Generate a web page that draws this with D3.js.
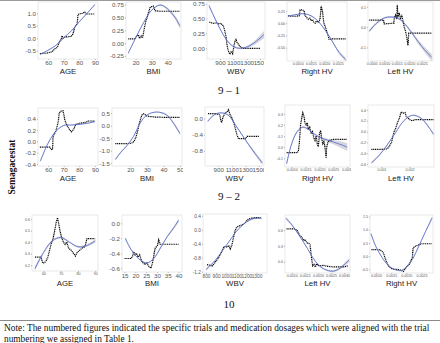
<!DOCTYPE html>
<html>
<head>
<meta charset="utf-8">
<script src="https://cdn.jsdelivr.net/npm/d3@7"></script>
<style>
  body { margin: 0; background: #fff; }
  svg { display: block; }
</style>
</head>
<body>
<div id="chart"></div>
<script>
// ---- row 9-1 ----
const r1AgeX = [60, 70, 80, 90], r1AgeY = [-0.5, 0, 0.5, 1.0];
const r1AgeDots = [[54.7,-0.62],[57,-0.6],[59,-0.6],[60.5,-0.57],[62,-0.55],[63.2,-0.5],[64.3,-0.42],[65.5,-0.38],[66.4,-0.3],[67.1,-0.15],[68.3,-0.05],[69,0.1],[69.6,0.0],[71,0.05],[73,0.06],[74.9,0.08],[76,0.18],[77.1,0.45],[78.6,0.58],[79.2,0.95],[80.3,0.98],[82.4,1.0],[83.5,1.05],[84.5,0.97],[87,0.97],[89.9,0.97]];
const r1AgeFit = [[55,-0.64,0.03],[60,-0.48,0.02],[65,-0.28,0.015],[70,0.02,0.015],[75,0.3,0.015],[80,0.66,0.02],[85,1.0,0.025],[90,1.35,0.04]];

const r1BmiX = [20, 30, 40], r1BmiY = [-0.25, 0, 0.25, 0.5, 0.75];
const r1BmiDots = [[15.4,0.08],[17.5,0.08],[19.6,0.08],[20.5,0.13],[21.7,0.16],[22.5,0.09],[23.5,0.14],[24.3,0.1],[24.8,0.18],[25.5,0.3],[26.3,0.42],[27.2,0.5],[27.9,0.58],[29,0.69],[30,0.71],[31,0.72],[32.1,0.63],[35,0.62],[40,0.62],[44,0.62],[47.7,0.62]];
const r1BmiFit = [[15.4,-0.2,0.02],[20,0.1,0.015],[25,0.4,0.012],[30,0.64,0.012],[35,0.74,0.015],[38,0.71,0.02],[42,0.6,0.03],[45,0.48,0.04],[47.7,0.33,0.05]];

const r1WbvX = [900, 1100, 1300, 1500], r1WbvY = [0, 0.25, 0.5, 0.75];
const r1WbvDots = [[740,0.44],[800,0.42],[850,0.43],[880,0.41],[910,0.42],[950,0.38],[970,0.3],[990,0.2],[1000,0.1],[1015,0.0],[1030,-0.06],[1050,-0.1],[1070,-0.05],[1090,-0.09],[1110,0.05],[1125,0.12],[1140,0.15],[1155,0.1],[1175,0.07],[1200,0.03],[1240,0.0],[1300,0.0],[1400,0.0],[1500,0.0]];
const r1WbvFit = [[735,0.72,0.03],[800,0.56,0.02],[900,0.33,0.015],[1000,0.14,0.012],[1100,0.03,0.012],[1200,0.0,0.015],[1300,0.02,0.02],[1400,0.08,0.03],[1500,0.17,0.05],[1560,0.23,0.06]];

const r1RhvX = [0.0010, 0.0015, 0.0020, 0.0025], r1RhvY = [-0.5, -0.25, 0, 0.25];
const r1RhvDots = [[0.00064,0.15],[0.0008,0.14],[0.00095,0.14],[0.00106,0.15],[0.00109,0.27],[0.00118,0.27],[0.00124,0.25],[0.00128,0.15],[0.00136,0.1],[0.0014,0.08],[0.00146,0.1],[0.0015,0.05],[0.00156,0.07],[0.0016,0.02],[0.00166,0.0],[0.0017,0.04],[0.00178,0.02],[0.00184,0.08],[0.00188,0.35],[0.00191,0.28],[0.00194,0.2],[0.00198,0.0],[0.00202,-0.05],[0.00208,-0.15],[0.00214,-0.25],[0.00218,-0.33],[0.0023,-0.32],[0.0025,-0.32],[0.0028,-0.32]];
const r1RhvFit = [[0.00064,0.14,0.015],[0.0009,0.17,0.01],[0.00125,0.19,0.008],[0.0015,0.15,0.008],[0.00178,0.03,0.01],[0.00214,-0.23,0.015],[0.00256,-0.6,0.03],[0.0028,-0.74,0.04]];

const r1LhvX = [0.0005, 0.0010, 0.0015, 0.0020, 0.0025], r1LhvY = [-0.1, 0, 0.1];
const r1LhvDots = [[0.0004,0.035],[0.0006,0.035],[0.0008,0.035],[0.00097,0.035],[0.001,0.016],[0.0012,0.018],[0.00139,0.02],[0.0014,0.045],[0.00145,0.06],[0.0015,0.04],[0.00152,0.11],[0.00155,0.05],[0.0016,0.07],[0.00165,0.04],[0.0017,0.06],[0.00175,0.03],[0.0018,0.0],[0.00185,-0.02],[0.0019,-0.05],[0.00195,-0.09],[0.00198,-0.03],[0.0021,-0.03],[0.0024,-0.03],[0.0027,-0.03],[0.0029,-0.03]];
const r1LhvFit = [[0.0004,-0.02,0.008],[0.0007,0.02,0.006],[0.001,0.045,0.005],[0.0013,0.05,0.005],[0.0016,0.04,0.005],[0.0019,0.005,0.006],[0.0022,-0.045,0.008],[0.0025,-0.095,0.012],[0.0029,-0.15,0.018]];

// ---- row 9-2 ----
const r2AgeX = [60, 70, 80, 90], r2AgeY = [-0.4, -0.2, 0, 0.2, 0.4];
const r2AgeDots = [[54.7,-0.1],[57,-0.1],[59,-0.1],[61.1,-0.1],[62,-0.14],[62.8,-0.15],[63.2,0.09],[64.3,0.15],[64.9,0.18],[65.8,0.27],[66.5,0.35],[67.1,0.5],[68.1,0.53],[69.6,0.54],[70.7,0.38],[71.8,0.3],[73,0.24],[73.9,0.2],[75,0.17],[76.5,0.22],[77.7,0.3],[80.3,0.32],[84.5,0.34],[85.6,0.36],[89.9,0.36]];
const r2AgeFit = [[55,-0.35,0.02],[60,-0.03,0.012],[65,0.18,0.01],[70,0.28,0.008],[75,0.29,0.008],[80,0.3,0.008],[85,0.32,0.01],[90,0.35,0.015]];

const r2BmiX = [20, 30, 40, 50], r2BmiY = [-1.5, -1.0, -0.5, 0, 0.5];
const r2BmiDots = [[11,-0.72],[14,-0.72],[17,-0.72],[20,-0.71],[21.5,-0.68],[22.5,-0.6],[23.5,-0.45],[24.5,-0.2],[25.3,0.05],[26.2,0.25],[27,0.42],[28,0.47],[29,0.43],[30,0.38],[32,0.36],[35,0.34],[40,0.33],[45,0.33],[50,0.33]];
const r2BmiFit = [[11,-1.35,0.05],[14.5,-1.05,0.03],[18,-0.8,0.02],[22,-0.43,0.015],[26,0.1,0.012],[30,0.42,0.012],[36,0.54,0.02],[42,0.42,0.03],[46,0.1,0.05],[50,-0.32,0.07]];

const r2WbvX = [900, 1100, 1300, 1500], r2WbvY = [-0.8, -0.4, 0];
const r2WbvDots = [[750,0.12],[800,0.12],[850,0.12],[900,0.11],[925,0.08],[935,-0.03],[950,-0.1],[965,0.0],[975,0.05],[1000,0.14],[1030,0.16],[1050,0.22],[1075,0.1],[1100,0.02],[1125,-0.08],[1150,-0.23],[1175,-0.4],[1200,-0.5],[1250,-0.5],[1300,-0.5],[1325,-0.44],[1400,-0.44],[1500,-0.44]];
const r2WbvFit = [[745,-0.07,0.03],[850,0.1,0.02],[950,0.14,0.015],[1050,0.08,0.015],[1150,-0.15,0.015],[1250,-0.4,0.02],[1350,-0.65,0.03],[1450,-0.88,0.04],[1550,-1.1,0.05]];

const r2RhvX = [0.0010, 0.0015, 0.0020, 0.0025, 0.0030], r2RhvY = [-0.1, 0, 0.1, 0.2, 0.3];
const r2RhvDots = [[0.00082,-0.05],[0.001,-0.05],[0.0012,-0.05],[0.00124,-0.04],[0.00128,0.05],[0.00132,0.2],[0.00136,0.26],[0.0014,0.31],[0.00144,0.28],[0.00148,0.22],[0.00152,0.2],[0.00156,0.22],[0.0016,0.16],[0.00165,0.18],[0.0017,0.12],[0.00175,0.14],[0.0018,0.08],[0.00184,0.06],[0.00188,0.1],[0.00192,0.03],[0.00196,0.0],[0.002,0.12],[0.00204,0.15],[0.00208,0.08],[0.00212,0.03],[0.00216,0.05],[0.0022,0.0],[0.00224,-0.1],[0.00226,0.0],[0.0023,0.04],[0.00236,0.06],[0.0025,0.07],[0.0028,0.07],[0.003,0.07]];
const r2RhvFit = [[0.00082,-0.15,0.02],[0.001,0.03,0.012],[0.0012,0.14,0.01],[0.0014,0.18,0.008],[0.0016,0.16,0.008],[0.0018,0.12,0.008],[0.002,0.09,0.01],[0.0022,0.07,0.012],[0.0025,0.045,0.02],[0.0028,0.02,0.03],[0.003,0.0,0.035]];

const r2LhvX = [0.001, 0.002], r2LhvY = [-0.6, -0.4, -0.2, 0, 0.2, 0.4];
const r2LhvDots = [[0.00064,-0.33],[0.0008,-0.33],[0.001,-0.33],[0.00118,-0.32],[0.00125,-0.3],[0.0013,-0.25],[0.00136,-0.2],[0.0014,-0.1],[0.00145,0.0],[0.0015,0.05],[0.00156,0.15],[0.00164,0.25],[0.0017,0.36],[0.00178,0.34],[0.00184,0.35],[0.00188,0.28],[0.00195,0.25],[0.002,0.22],[0.00209,0.2],[0.0022,0.22],[0.0025,0.22],[0.00285,0.22]];
const r2LhvFit = [[0.00064,-0.58,0.02],[0.0009,-0.45,0.015],[0.0012,-0.25,0.012],[0.0015,-0.02,0.01],[0.0018,0.2,0.01],[0.0021,0.3,0.01],[0.0024,0.25,0.015],[0.0027,0.07,0.02],[0.00285,-0.05,0.025]];

// ---- row 10 ----
const r3AgeX = [60, 70, 80, 90], r3AgeY = [0.2, 0.3, 0.4, 0.5, 0.6];
const r3AgeDots = [[55,0.27],[57,0.27],[58.5,0.27],[59.5,0.22],[60.5,0.22],[61.5,0.24],[62.5,0.27],[63.5,0.33],[64.5,0.39],[65.5,0.43],[66.5,0.5],[67.3,0.57],[68.1,0.61],[68.8,0.56],[69.5,0.5],[70.5,0.44],[71.5,0.4],[72.5,0.38],[73.5,0.4],[74.5,0.35],[76,0.33],[77.5,0.3],[78.5,0.28],[79.5,0.31],[81,0.33],[82.5,0.35],[84,0.36],[85.2,0.43],[87,0.43],[90,0.43]];
const r3AgeFit = [[55,0.17,0.02],[60,0.31,0.01],[65,0.41,0.008],[70,0.44,0.008],[75,0.4,0.008],[80,0.36,0.008],[85,0.37,0.01],[90,0.41,0.015]];

const r3BmiX = [15, 20, 25, 30, 35, 40], r3BmiY = [-0.6, -0.4, -0.2, 0];
const r3BmiDots = [[15,-0.47],[16.5,-0.47],[18,-0.47],[18.7,-0.44],[19.2,-0.38],[19.8,-0.42],[20.5,-0.4],[21.2,-0.45],[22,-0.42],[22.8,-0.5],[23.6,-0.53],[24.5,-0.55],[25.3,-0.53],[26.1,-0.57],[27.2,-0.6],[28,-0.52],[28.7,-0.4],[29.2,-0.33],[30.2,-0.3],[30.8,-0.22],[31.5,-0.28],[33,-0.28],[35,-0.28],[37.5,-0.28],[40,-0.28]];
const r3BmiFit = [[15.3,-0.2,0.02],[17,-0.3,0.012],[19.2,-0.4,0.01],[22.3,-0.49,0.008],[25.4,-0.53,0.008],[28.5,-0.47,0.01],[31.6,-0.33,0.012],[34.7,-0.18,0.015],[37.8,-0.06,0.02],[40,0.04,0.025]];

const r3WbvX = [800, 900, 1000, 1100, 1200, 1300], r3WbvY = [-1.2, -0.8, -0.4, 0, 0.4];
const r3WbvDots = [[810,-1.0],[840,-1.02],[860,-1.05],[880,-0.97],[900,-0.9],[920,-0.82],[940,-0.72],[960,-0.6],[975,-0.5],[990,-0.48],[1010,-0.5],[1025,-0.45],[1040,-0.55],[1055,-0.45],[1070,-0.25],[1085,-0.05],[1100,0.05],[1120,0.1],[1140,0.12],[1160,0.14],[1180,0.18],[1200,0.25],[1220,0.3],[1250,0.33],[1300,0.35],[1340,0.34]];
const r3WbvFit = [[800,-1.14,0.04],[850,-1.0,0.025],[900,-0.85,0.015],[950,-0.65,0.012],[1000,-0.45,0.012],[1050,-0.25,0.012],[1100,-0.05,0.012],[1150,0.1,0.012],[1200,0.22,0.015],[1250,0.3,0.02],[1300,0.33,0.025],[1350,0.33,0.03]];

const r3LhvX = [0.0010, 0.0015, 0.0020, 0.0025, 0.0030], r3LhvY = [0, 0.3, 0.6];
const r3LhvDots = [[0.0008,0.62],[0.0009,0.62],[0.001,0.62],[0.0011,0.62],[0.0012,0.6],[0.00125,0.55],[0.0013,0.5],[0.00135,0.48],[0.0014,0.45],[0.00145,0.4],[0.0015,0.42],[0.00155,0.38],[0.0016,0.35],[0.00165,0.35],[0.0017,0.32],[0.00175,0.1],[0.0018,-0.08],[0.00185,-0.05],[0.0019,-0.1],[0.00195,-0.04],[0.002,-0.07],[0.0021,-0.08],[0.0022,-0.07],[0.0024,-0.09],[0.0026,-0.1],[0.0028,-0.1],[0.003,-0.1],[0.00315,-0.08]];
const r3LhvFit = [[0.00078,0.82,0.03],[0.001,0.7,0.02],[0.0012,0.56,0.015],[0.0014,0.41,0.012],[0.0016,0.25,0.012],[0.0018,0.08,0.012],[0.002,-0.05,0.012],[0.0022,-0.13,0.015],[0.0024,-0.17,0.015],[0.0026,-0.18,0.02],[0.0028,-0.14,0.025],[0.003,-0.06,0.03],[0.0032,0.03,0.04]];

const r3RhvX = [0.0010, 0.0015, 0.0020, 0.0025], r3RhvY = [-0.5, 0, 0.5, 1.0, 1.5];
const r3RhvDots = [[0.00085,0.25],[0.00095,0.25],[0.00105,0.25],[0.00113,0.24],[0.0012,0.18],[0.00125,0.1],[0.00129,-0.05],[0.00134,-0.2],[0.0014,-0.35],[0.00145,-0.42],[0.0015,-0.47],[0.0016,-0.5],[0.0017,-0.5],[0.0018,-0.53],[0.0019,-0.58],[0.00195,-0.5],[0.002,-0.42],[0.0021,-0.3],[0.0022,-0.05],[0.00222,0.3],[0.0023,0.38],[0.0024,0.42],[0.0025,0.47],[0.0027,0.47],[0.00285,0.47]];
const r3RhvFit = [[0.00083,0.85,0.05],[0.001,0.35,0.03],[0.0012,-0.05,0.02],[0.0014,-0.35,0.015],[0.0016,-0.5,0.015],[0.0018,-0.55,0.015],[0.002,-0.42,0.015],[0.0022,-0.12,0.02],[0.0024,0.35,0.03],[0.0026,0.85,0.04],[0.00285,1.45,0.06]];

const rowLabels = ["9 \u2013 1", "9 \u2013 2", "10"];
const drugLabel = "Semagacestat";
const noteLines = [
  "Note: The numbered figures indicated the specific trials and medication dosages which were aligned with the trial",
  "numbering we assigned in Table 1."
];

const W = 440, H = 343;
const titleY = [71.5, 178.5, 284];
const big = 6.2, small = 3.6;

const loc = d3.formatLocale({decimal: ".", thousands: ",", grouping: [3], currency: ["", ""], minus: "-"});

// box = [left, right, top, bottom]
const panels = [
  {row: 0, box: [38, 98, 2, 59],    title: "AGE",      xd: [53.5, 92],        yd: [-0.83, 1.45], xt: r1AgeX, yt: r1AgeY, xf: "d", yf: ".1f", fs: big, dots: r1AgeDots, fit: r1AgeFit},
  {row: 0, box: [126, 181, 2, 59],  title: "BMI",      xd: [14, 48.3],        yd: [-0.31, 0.8],  xt: r1BmiX, yt: r1BmiY, xf: "d", yf: ".2f", fs: big, dots: r1BmiDots, fit: r1BmiFit},
  {row: 0, box: [207, 265, 2, 59],  title: "WBV",      xd: [705, 1575],       yd: [-0.18, 0.78], xt: r1WbvX, yt: r1WbvY, xf: "d", yf: ".2f", fs: big, dots: r1WbvDots, fit: r1WbvFit, clipX: 264},
  {row: 0, box: [287, 347, 2, 61],  title: "Right HV", xd: [0.0006, 0.00285], yd: [-0.77, 0.43], xt: r1RhvX, yt: r1RhvY, xf: ".4f", yf: ".2f", fs: small, dots: r1RhvDots, fit: r1RhvFit},
  {row: 0, box: [368, 433, 2, 61],  title: "Left HV",  xd: [0.00035, 0.00295], yd: [-0.167, 0.124], xt: r1LhvX, yt: r1LhvY, xf: ".4f", yf: ".1f", fs: small, dots: r1LhvDots, fit: r1LhvFit},

  {row: 1, box: [38, 98, 108, 166], title: "AGE",      xd: [53.5, 92],        yd: [-0.435, 0.59], xt: r2AgeX, yt: r2AgeY, xf: "d", yf: ".1f", fs: big, dots: r2AgeDots, fit: r2AgeFit},
  {row: 1, box: [112, 182, 108, 166], title: "BMI",    xd: [9, 51.2],         yd: [-1.61, 0.7],  xt: r2BmiX, yt: r2BmiY, xf: "d", yf: ".1f", fs: big, dots: r2BmiDots, fit: r2BmiFit, clipX: 183},
  {row: 1, box: [205, 264, 107, 166], title: "WBV",    xd: [705, 1575],       yd: [-1.175, 0.285], xt: r2WbvX, yt: r2WbvY, xf: "d", yf: ".1f", fs: big, dots: r2WbvDots, fit: r2WbvFit, clipX: 264},
  {row: 1, box: [285, 350, 105, 167], title: "Right HV", xd: [0.00076, 0.0031], yd: [-0.18, 0.38], xt: r2RhvX, yt: r2RhvY, xf: ".4f", yf: ".1f", fs: small, dots: r2RhvDots, fit: r2RhvFit, clipX: 351},
  {row: 1, box: [368, 434, 105, 167], title: "Left HV", xd: [0.00052, 0.00287], yd: [-0.655, 0.49], xt: r2LhvX, yt: r2LhvY, xf: ".3f", yf: ".1f", fs: small, dots: r2LhvDots, fit: r2LhvFit},

  {row: 2, box: [32, 98, 215, 271], title: "AGE",      xd: [53.3, 91.6],      yd: [0.15, 0.635], xt: r3AgeX, yt: r3AgeY, xf: "d", yf: ".1f", fs: small, dots: r3AgeDots, fit: r3AgeFit},
  {row: 2, box: [122, 182, 215, 272], title: "BMI",    xd: [13.8, 41.6],      yd: [-0.65, 0.11], xt: r3BmiX, yt: r3BmiY, xf: "d", yf: ".1f", fs: big, dots: r3BmiDots, fit: r3BmiFit},
  {row: 2, box: [203, 267, 214, 273], title: "WBV",    xd: [770, 1404],       yd: [-1.24, 0.45], xt: r3WbvX, yt: r3WbvY, xf: "d", yf: ".1f", fs: 4.8, dots: r3WbvDots, fit: r3WbvFit},
  {row: 2, box: [285, 350, 215, 273], title: "Left HV", xd: [0.00074, 0.00323], yd: [-0.215, 0.885], xt: r3LhvX, yt: r3LhvY, xf: ".4f", yf: ".1f", fs: small, dots: r3LhvDots, fit: r3LhvFit},
  {row: 2, box: [370, 433, 215, 273], title: "Right HV", xd: [0.0008, 0.00288], yd: [-0.64, 1.56], xt: r3RhvX, yt: r3RhvY, xf: ".4f", yf: ".1f", fs: small, dots: r3RhvDots, fit: r3RhvFit}
];

const svg = d3.select("#chart").append("svg")
  .attr("width", W).attr("height", H)
  .style("font-family", "'Liberation Sans', Arial, sans-serif");

svg.append("rect").attr("width", W).attr("height", H).attr("fill", "#fff");
svg.append("line").attr("x1", 0).attr("x2", W).attr("y1", 0.5).attr("y2", 0.5)
  .attr("stroke", "#9a9a9a").attr("stroke-width", 1);

const defs = svg.append("defs");

panels.forEach((p, i) => {
  const [x0, x1, y0, y1] = p.box;
  const x = d3.scaleLinear().domain(p.xd).range([x0, x1]);
  const y = d3.scaleLinear().domain(p.yd).range([y1, y0]);
  const g = svg.append("g");

  g.append("rect")
    .attr("x", x0).attr("y", y0).attr("width", x1 - x0).attr("height", y1 - y0)
    .attr("fill", "#fff").attr("stroke", "#e0e0e0").attr("stroke-width", 0.7);

  defs.append("clipPath").attr("id", "pc" + i)
    .append("rect").attr("x", x0).attr("y", y0).attr("width", x1 - x0).attr("height", y1 - y0);
  const inner = g.append("g").attr("clip-path", `url(#pc${i})`);

  const band = d3.area()
    .x(d => x(d[0])).y0(d => y(d[1] - d[2])).y1(d => y(d[1] + d[2]))
    .curve(d3.curveCatmullRom.alpha(0.5));
  const fitLine = d3.line()
    .x(d => x(d[0])).y(d => y(d[1]))
    .curve(d3.curveCatmullRom.alpha(0.5));
  const dotLine = d3.line().x(d => x(d[0])).y(d => y(d[1]));

  inner.append("path").attr("d", band(p.fit))
    .attr("fill", "#b4b4be").attr("opacity", 0.55);
  inner.append("path").attr("d", dotLine(p.dots))
    .attr("fill", "none").attr("stroke", "#000").attr("stroke-width", 1.2)
    .attr("stroke-dasharray", "1.1,0.7");
  inner.append("path").attr("d", fitLine(p.fit))
    .attr("fill", "none").attr("stroke", "#5f73d0").attr("stroke-width", 0.9);

  const xAxis = g.append("g").attr("transform", `translate(0,${y1})`)
    .call(d3.axisBottom(x).tickValues(p.xt).tickFormat(loc.format(p.xf)).tickSize(1).tickPadding(0.5));
  const yAxis = g.append("g").attr("transform", `translate(${x0},0)`)
    .call(d3.axisLeft(y).tickValues(p.yt).tickFormat(loc.format(p.yf)).tickSize(1).tickPadding(1));

  [xAxis, yAxis].forEach(a => {
    a.select(".domain").remove();
    a.selectAll(".tick line").attr("stroke", "#777").attr("stroke-width", 0.5);
    a.selectAll("text").attr("fill", "#555").attr("font-size", p.fs)
      .attr("font-family", "'Liberation Sans', Arial, sans-serif");
  });

  // labels that run past the sub-figure edge are cut off, as in the source
  if (p.clipX) {
    defs.append("clipPath").attr("id", "xc" + i)
      .append("rect").attr("x", 0).attr("y", -2).attr("width", p.clipX).attr("height", 20);
    xAxis.attr("clip-path", `url(#xc${i})`);
  }

  g.append("text")
    .attr("x", (x0 + x1) / 2).attr("y", titleY[p.row])
    .attr("text-anchor", "middle").attr("dominant-baseline", "middle")
    .attr("font-size", 7.8).attr("fill", "#1a1a1a")
    .text(p.title);
});

// row captions
const capY = [94, 200, 308];
rowLabels.forEach((t, i) => {
  svg.append("text")
    .attr("x", 229).attr("y", capY[i])
    .attr("text-anchor", "middle")
    .attr("font-family", "'Liberation Serif', 'Times New Roman', serif")
    .attr("font-size", 11).attr("fill", "#111")
    .text(t);
});

svg.append("text")
  .attr("transform", "translate(15,167) rotate(-90)")
  .attr("text-anchor", "middle")
  .attr("font-family", "'Liberation Serif', 'Times New Roman', serif")
  .attr("font-weight", "bold").attr("font-size", 9.5).attr("fill", "#111")
  .text(drugLabel);

svg.append("line").attr("x1", 0).attr("x2", W).attr("y1", 320.5).attr("y2", 320.5)
  .attr("stroke", "#8a8a8a").attr("stroke-width", 1);

noteLines.forEach((t, i) => {
  svg.append("text")
    .attr("x", 4).attr("y", 331 + i * 11)
    .attr("font-family", "'Liberation Serif', 'Times New Roman', serif")
    .attr("font-size", 9.35).attr("fill", "#111")
    .text(t);
});
</script>
</body>
</html>
